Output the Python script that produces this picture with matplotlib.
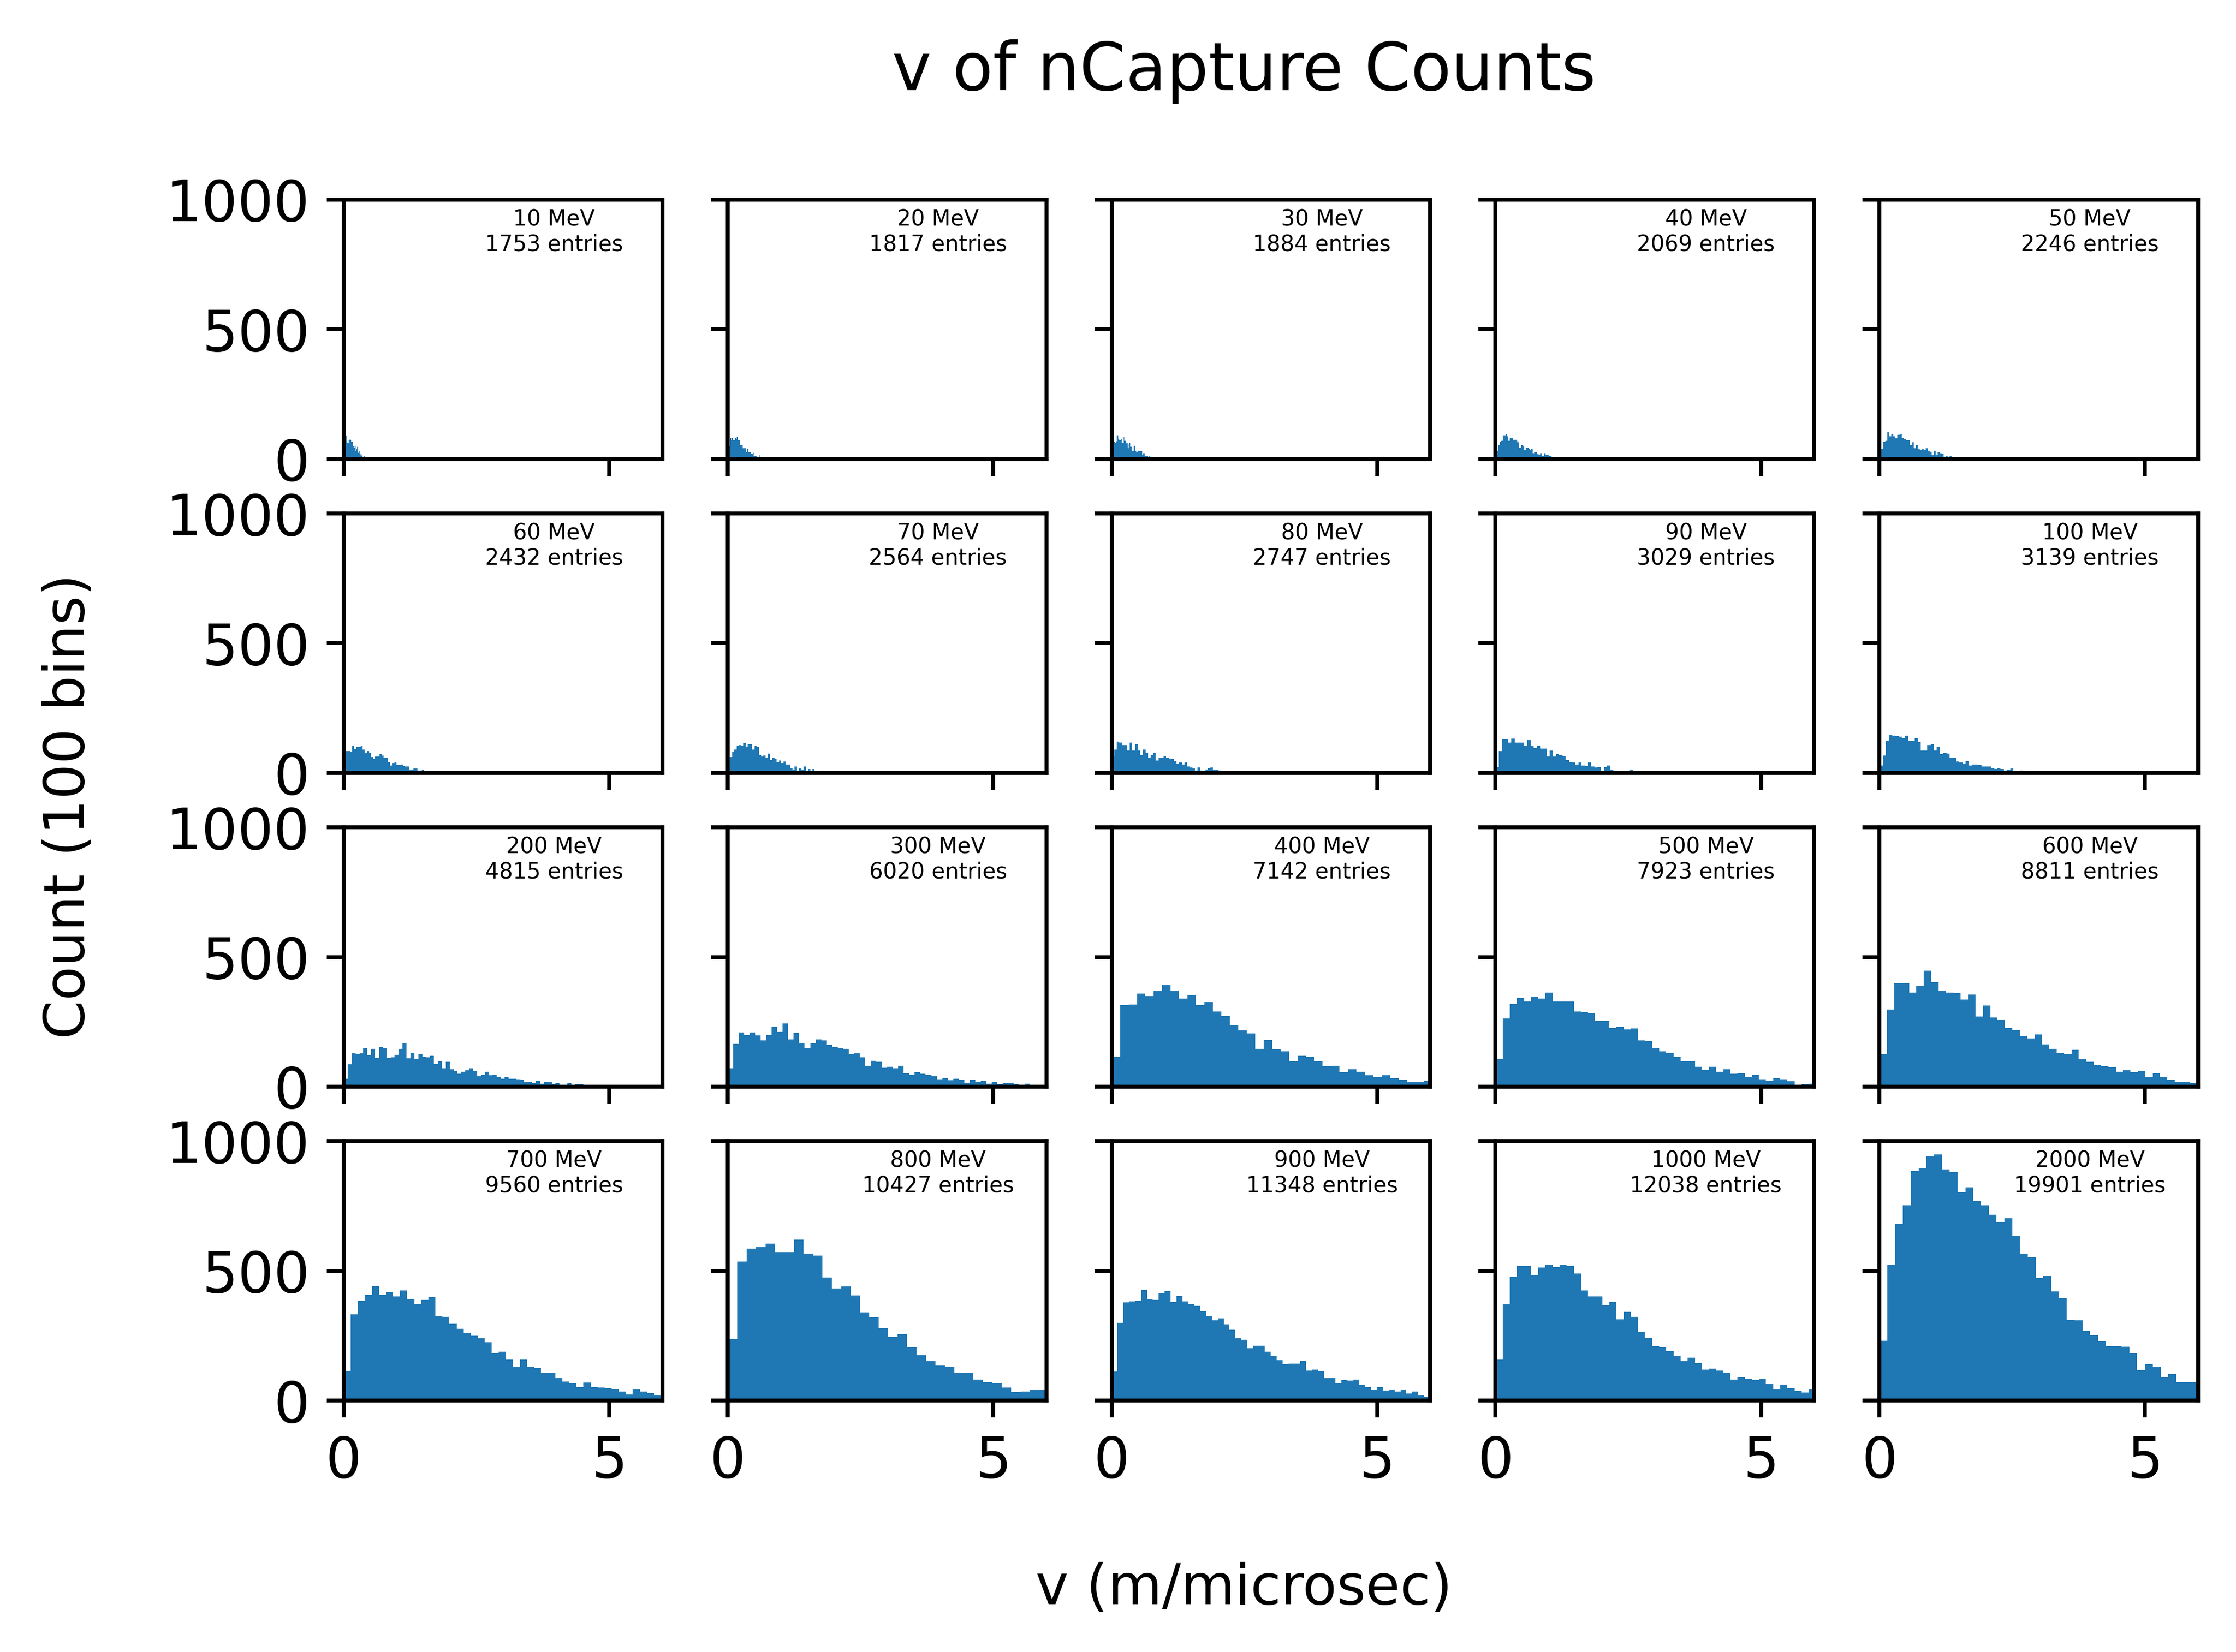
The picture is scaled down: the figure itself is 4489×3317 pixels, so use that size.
import numpy as np
import matplotlib
matplotlib.use("Agg")
import matplotlib.pyplot as plt

# beam energies (MeV) and number of entries per panel
energies = [10, 20, 30, 40, 50,
            60, 70, 80, 90, 100,
            200, 300, 400, 500, 600,
            700, 800, 900, 1000, 2000]
entries = [1753, 1817, 1884, 2069, 2246,
           2432, 2564, 2747, 3029, 3139,
           4815, 6020, 7142, 7923, 8811,
           9560, 10427, 11348, 12038, 19901]

# bin width (m/microsec) of each histogram
bin_widths = [0.0159, 0.0159, 0.016, 0.027, 0.0377,
              0.0397, 0.042, 0.049, 0.06, 0.06,
              0.0739, 0.1036, 0.159, 0.134, 0.139,
              0.1328, 0.178, 0.111, 0.134, 0.147]

# counts per bin (only bins inside 0..6 are listed)
c10 = [34, 54, 66, 89, 63, 60, 73, 79, 73, 66, 66, 49, 43, 51, 30, 37, 47, 24, 32, 20,
       13, 15, 9, 7, 11, 5, 3, 1, 1, 1, 0, 1, 1]
c20 = [20, 34, 49, 83, 73, 83, 72, 72, 72, 83, 77, 85, 73, 73, 75, 53, 54, 56, 41, 41,
       41, 41, 26, 39, 26, 26, 26, 20, 20, 20, 24, 11, 11, 3, 11, 3, 3, 14, 7, 7,
       3, 7, 7, 7, 1]
c30 = [30, 58, 77, 66, 62, 68, 92, 92, 77, 72, 72, 79, 62, 62, 85, 70, 70, 60, 60, 41,
       58, 62, 47, 47, 30, 30, 51, 51, 32, 28, 28, 32, 30, 30, 30, 30, 15, 22, 22, 13,
       13, 13, 11, 7, 11, 9, 9, 7, 7, 5, 7, 7, 5, 1, 0, 0, 3, 3]
c40 = [11, 30, 54, 66, 70, 91, 92, 96, 87, 70, 81, 81, 75, 75, 75, 64, 43, 43, 54, 51,
       34, 43, 43, 39, 34, 39, 22, 26, 26, 18, 16, 22, 13, 13, 22, 16, 16, 11, 11, 1,
       1, 5, 3, 2, 1, 0, 1]
c50 = [26, 39, 66, 70, 104, 87, 96, 87, 81, 94, 98, 83, 79, 73, 72, 53, 64, 41, 54, 39,
       34, 37, 35, 41, 32, 28, 15, 32, 15, 26, 22, 20, 9, 11, 7, 13, 3, 7, 3, 0,
       3, 0, 7, 0, 1, 1]
c60 = [56, 85, 85, 80, 104, 92, 99, 99, 104, 89, 78, 84, 78, 61, 53, 63, 63, 72, 66, 57,
       57, 42, 28, 38, 42, 30, 30, 32, 27, 25, 25, 14, 14, 17, 17, 9, 9, 11, 4, 2,
       4, 4, 6, 0, 6, 2, 2, 3, 0, 2, 0, 2, 0, 2]
c70 = [5, 61, 82, 89, 104, 108, 106, 114, 101, 112, 112, 89, 104, 99, 68, 63, 66, 57, 74, 49,
       57, 53, 42, 47, 38, 44, 32, 32, 19, 13, 25, 6, 17, 11, 25, 6, 15, 8, 15, 8,
       8, 8, 9, 1, 0, 1, 0, 1, 0, 0, 0, 0, 0, 2]
c80 = [65, 89, 120, 116, 108, 108, 87, 116, 87, 112, 87, 68, 89, 78, 59, 68, 76, 47, 59, 57,
       65, 57, 55, 53, 46, 34, 40, 32, 40, 25, 21, 17, 9, 21, 9, 8, 13, 19, 21, 13,
       11, 9, 6, 2, 4, 2, 6, 2, 4, 2]
c90 = [23, 84, 131, 131, 116, 133, 116, 116, 116, 106, 127, 104, 95, 106, 93, 93, 63, 87, 63, 72,
       68, 65, 49, 42, 40, 32, 40, 28, 27, 40, 25, 21, 23, 8, 23, 28, 11, 4, 8, 8,
       6, 8, 13, 2, 8, 4, 4, 4, 0, 0, 0, 0, 0, 0, 0, 2]
c100 = [28, 66, 125, 146, 144, 142, 139, 135, 144, 123, 123, 135, 118, 87, 87, 108, 112, 87, 99, 72,
        76, 74, 57, 57, 44, 40, 36, 46, 28, 32, 32, 30, 25, 25, 25, 19, 15, 19, 15, 9,
        11, 17, 8, 4, 9, 8, 8, 8, 6, 4, 6, 4, 6, 2, 6]
c200 = [30, 87, 128, 124, 128, 147, 120, 145, 112, 153, 147, 112, 114, 122, 145, 168, 110, 130, 108, 124,
        116, 114, 118, 89, 98, 71, 95, 67, 60, 50, 58, 63, 71, 60, 40, 46, 58, 44, 46, 36,
        30, 36, 30, 30, 28, 26, 17, 19, 13, 23, 11, 19, 17, 9, 13, 5, 3, 13, 5, 9,
        9, 1, 3, 5, 1, 1, 2, 1, 0, 1, 1]
c300 = [71, 165, 209, 199, 209, 198, 178, 199, 231, 211, 244, 182, 207, 168, 149, 166, 182, 178, 161, 153,
        147, 145, 124, 128, 114, 81, 100, 95, 73, 77, 71, 81, 52, 46, 56, 50, 46, 40, 28, 32,
        25, 30, 27, 15, 27, 19, 23, 11, 19, 9, 13, 15, 9, 7, 11, 5, 1, 1]
c400 = [115, 314, 316, 359, 349, 369, 392, 369, 339, 353, 314, 326, 289, 273, 238, 217, 205, 145, 180, 143,
        137, 98, 118, 116, 98, 79, 81, 56, 67, 58, 44, 36, 44, 32, 27, 17, 17, 23]
c500 = [108, 262, 318, 341, 328, 345, 339, 363, 328, 328, 328, 289, 287, 285, 254, 254, 227, 231, 221, 225,
        178, 176, 149, 137, 130, 116, 97, 98, 77, 65, 77, 58, 67, 50, 52, 38, 46, 28, 23, 32,
        28, 21, 7, 9, 11]
c600 = [124, 297, 400, 400, 363, 390, 448, 404, 369, 363, 361, 335, 355, 271, 312, 266, 258, 227, 219, 196,
        186, 201, 163, 145, 131, 124, 141, 106, 95, 85, 79, 75, 58, 63, 56, 60, 38, 52, 38, 27,
        19, 19, 13]
c700 = [113, 332, 384, 408, 441, 408, 419, 402, 425, 390, 373, 388, 400, 326, 323, 295, 276, 261, 249, 241,
        224, 183, 189, 158, 129, 158, 131, 125, 106, 106, 86, 73, 67, 52, 69, 52, 50, 48, 44, 34,
        23, 42, 34, 28, 19]
c800 = [237, 536, 586, 592, 605, 573, 573, 620, 566, 559, 474, 433, 439, 406, 340, 321, 278, 245, 255, 205,
        175, 152, 135, 131, 108, 106, 81, 71, 67, 50, 32, 34, 40, 40]
c900 = [112, 299, 379, 383, 385, 427, 392, 388, 415, 423, 381, 404, 383, 373, 365, 344, 326, 309, 317, 294,
        272, 241, 235, 201, 212, 212, 189, 170, 156, 141, 143, 143, 154, 115, 119, 114, 86, 86, 67, 79,
        77, 81, 59, 52, 40, 52, 38, 40, 34, 40, 26, 34, 19, 13]
c1000 = [158, 371, 477, 519, 519, 483, 512, 524, 514, 524, 518, 489, 425, 402, 402, 367, 381, 313, 342, 323,
         265, 242, 210, 205, 190, 173, 152, 165, 144, 119, 123, 115, 107, 80, 90, 82, 79, 85, 63, 42,
         61, 48, 36, 30, 42]
c2000 = [231, 522, 681, 752, 886, 897, 941, 948, 891, 882, 803, 822, 770, 752, 717, 687, 702, 634, 566, 553,
         472, 480, 420, 395, 312, 310, 269, 252, 228, 209, 209, 208, 183, 117, 140, 129, 91, 102, 71, 71,
         71]

all_counts = [c10, c20, c30, c40, c50, c60, c70, c80, c90, c100,
              c200, c300, c400, c500, c600, c700, c800, c900, c1000, c2000]

W, H, DPI = 4489, 3317, 700
fig, axes = plt.subplots(4, 5, sharex=True, sharey=True,
                         figsize=(W / DPI, H / DPI), dpi=DPI)
fig.subplots_adjust(left=690 / W, right=4413 / W,
                    top=1 - 401 / H, bottom=1 - 2812 / H,
                    wspace=0.205, hspace=0.21)

for i, ax in enumerate(axes.flat):
    counts = np.array(all_counts[i])
    edges = np.arange(len(counts) + 1) * bin_widths[i]
    ax.stairs(counts, edges, fill=True, color="C0")
    ax.text(0.66, 0.965, f"{energies[i]} MeV\n{entries[i]} entries",
            transform=ax.transAxes, ha="center", va="top",
            multialignment="center", fontsize=4.5)
    ax.set_xlim(0, 6)
    ax.set_ylim(0, 1000)
    ax.set_xticks([0, 5])
    ax.set_yticks([0, 500, 1000])
    ax.tick_params(labelsize=11.7)

fig.text(0.5563, 1 - 144 / H, "v of nCapture Counts", ha="center", va="center", fontsize=13.7)
fig.text(0.5563, 1 - 3190 / H, "v (m/microsec)", ha="center", va="center", fontsize=11.5)
fig.text(138 / W, 0.512, "Count (100 bins)", ha="center", va="center",
         rotation=90, fontsize=11.5)

fig.savefig("out.png", dpi=DPI)
